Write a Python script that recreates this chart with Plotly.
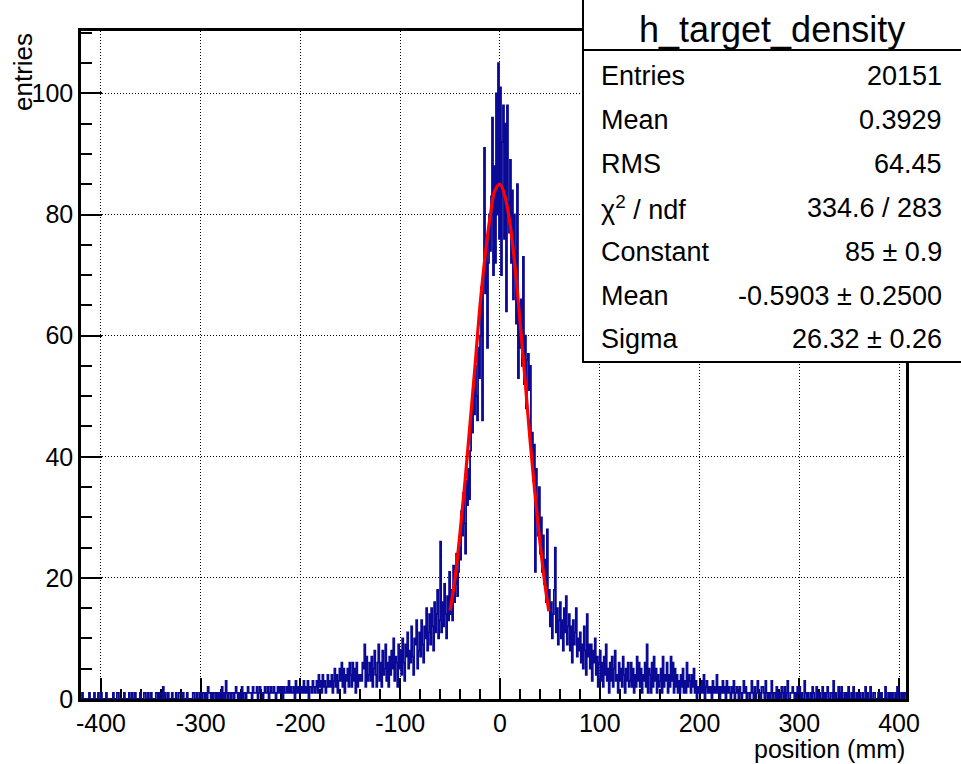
import plotly.graph_objects as go

# ---------------- data ----------------
x_low = -420.0          # low edge of first bin (mm)
bin_width = 1.0         # mm

# counts for bins -420 .. -131 (one digit per bin)
left_tail_counts = (
    "0100000010" "0001000100" "1000010000" "0010001100" "0001000010"
    "0100100001" "0001100100" "1000011010" "0020100100" "0100010011"
    "1010001000" "0011001001" "1011010211" "0101101010" "1201031011"
    "0110121010" "1201101211" "1021112012" "1101211201" "2112101212"
    "1202112131" "2112031212" "1213121302" "2132123142" "3142312423"
    "2413524135" "3625143526" "4263516243" "4365927346"
)

# counts for bins -130 .. 129
core_counts = [
    3, 7, 2, 5, 8, 4, 2, 6, 9, 3,
    6, 2, 8, 4, 5, 9, 3, 6, 2, 7,
    4, 8, 5, 10, 3, 7, 6, 2, 9, 5,
    8, 4, 10, 6, 3, 9, 7, 11, 5, 8,
    6, 12, 7, 4, 10, 9, 13, 5, 8, 11,
    7, 13, 9, 6, 12, 10, 15, 8, 11, 14,
    9, 15, 12, 8, 16, 11, 14, 18, 10, 13,
    26, 11, 16, 12, 19, 14, 10, 17, 13, 21,
    14, 18, 13, 22, 16, 19, 24, 17, 21, 25,
    23, 31, 27, 34, 29, 24, 36, 32, 38, 33,
    41, 48, 44, 52, 47, 55, 50, 46, 58, 53,
    60, 68, 46, 70, 91, 67, 75, 58, 72, 80,
    74, 83, 96, 70, 88, 72, 100, 80, 105, 76,
    101, 70, 92, 98, 76, 95, 64, 98, 82, 77,
    89, 72, 84, 66, 80, 74, 62, 85, 53, 64,
    58, 66, 55, 73, 52, 60, 48, 56, 57, 51,
    55, 40, 44, 36, 42, 21, 38, 33, 27, 35,
    24, 30, 21, 27, 19, 23, 16, 28, 15, 18,
    12, 16, 10, 14, 18, 25, 11, 15, 9, 13,
    16, 10, 13, 8, 15, 11, 17, 9, 12, 14,
    8, 12, 6, 13, 9, 11, 15, 7, 10, 8,
    11, 6, 9, 5, 12, 8, 4, 14, 7, 9,
    5, 9, 3, 8, 6, 10, 4, 7, 2, 6,
    8, 3, 6, 2, 7, 4, 9, 3, 5, 1,
    6, 3, 7, 2, 5, 8, 3, 4, 1, 6,
    3, 5, 2, 7, 4, 1, 5, 3, 6, 2,
]

# counts for bins 130 .. 406 (one digit per bin)
right_tail_counts = (
    "3625142736" "2514362915" "4162735142" "3517243614" "2736152413"
    "1425131624" "3142513021" "2131402312" "1203121412" "0213120312"
    "1021301210" "2101312011" "0131020131" "1022103101" "0130110201"
    "1021020130" "0112101021" "2010031010" "0102100201" "1002010120"
    "0110301002" "1020010102" "0010200101" "1001002010" "0200110001"
    "1010002001" "0101001020" "0010101"
)

# fitted gaussian curve
fit_x = [-50, -45, -40, -35, -30, -25, -20, -15, -10, -5, 0, 5,
         10, 15, 20, 25, 30, 35, 40, 45, 49]
fit_y = [14.6, 20, 27.5, 36, 45.5, 55, 65, 73, 79.5, 84, 85, 83,
         78.5, 71.5, 62.5, 53, 43, 34, 26, 19, 14.5]

x_tick_vals = [-400, -300, -200, -100, 0, 100, 200, 300, 400]
x_tick_text = ["-400", "-300", "-200", "-100", "0", "100", "200", "300", "400"]
y_tick_vals = [0, 20, 40, 60, 80, 100]

stats_title = "h_target_density"
stats_labels = ["Entries", "Mean", "RMS", "\u03c7<sup>2</sup> / ndf",
                "Constant", "Mean", "Sigma"]
stats_values = ["20151", "0.3929", "64.45", "334.6 / 283",
                "85 \u00b1 0.9", "-0.5903 \u00b1 0.2500", "26.32 \u00b1 0.26"]

# ---------------- build ----------------
counts = [int(c) for c in left_tail_counts] + core_counts + [int(c) for c in right_tail_counts]
edges = [x_low + i * bin_width for i in range(len(counts) + 1)]
step_y = counts + [counts[-1]]

W, H = 961, 764
L, R, T, B = 81, 55, 31, 65
pw, ph = W - L - R, H - T - B


def px(x):
    return (x - L) / pw


def py(y):
    return (H - B - y) / ph


FONT = "Liberation Sans, Arial, Helvetica, sans-serif"
BLUE = "#0a0a96"

fig = go.Figure()
fig.add_trace(go.Scatter(
    x=edges, y=step_y, mode="lines", line=dict(color=BLUE, width=1.8, shape="hv"),
    hoverinfo="skip", showlegend=False))
fig.add_trace(go.Scatter(
    x=fit_x, y=fit_y, mode="lines", line=dict(color="#ff0000", width=3.2, shape="spline"),
    hoverinfo="skip", showlegend=False))

axis_common = dict(
    showline=True, linecolor="black", linewidth=2.5, mirror=True,
    ticks="inside", tickcolor="black", tickwidth=2,
    showgrid=True, gridcolor="black", gridwidth=1, griddash="1px,2px",
    zeroline=False, layer="below traces",
    tickfont=dict(family=FONT, size=25, color="black"),
)

fig.update_xaxes(
    range=[edges[0], edges[-1]], tickvals=x_tick_vals, ticktext=x_tick_text,
    ticklen=21, minor=dict(dtick=20, ticklen=10, ticks="inside", tickcolor="black",
                           tickwidth=2, showgrid=False),
    **axis_common)
fig.update_yaxes(
    range=[0, 110.3], tickvals=y_tick_vals, ticklen=21,
    minor=dict(dtick=5, ticklen=11, ticks="inside", tickcolor="black",
               tickwidth=2, showgrid=False),
    **axis_common)

shapes = [
    dict(type="rect", xref="paper", yref="paper", x0=px(583), x1=px(963), y0=py(362), y1=py(-2),
         line=dict(color="black", width=2), fillcolor="white", layer="above"),
    dict(type="line", xref="paper", yref="paper", x0=px(583), x1=px(963), y0=py(50), y1=py(50),
         line=dict(color="black", width=2), layer="above"),
]

annotations = [
    dict(text=stats_title, xref="paper", yref="paper", x=px(772), y=py(29),
         xanchor="center", yanchor="middle", showarrow=False,
         font=dict(family=FONT, size=36, color="black")),
    dict(text="entries", xref="paper", yref="paper", x=px(23), y=py(31),
         xanchor="center", yanchor="top", textangle=-90, showarrow=False,
         font=dict(family=FONT, size=26, color="black")),
    dict(text="position (mm)", xref="paper", yref="paper", x=px(907), y=py(749),
         xanchor="right", yanchor="middle", showarrow=False,
         font=dict(family=FONT, size=25, color="black")),
]
row_centers = [76, 120, 164, 208, 252, 296, 339]
for lab, val, yc in zip(stats_labels, stats_values, row_centers):
    annotations.append(dict(text=lab, xref="paper", yref="paper", x=px(599), y=py(yc),
                            xanchor="left", yanchor="middle", showarrow=False,
                            font=dict(family=FONT, size=27, color="black")))
    annotations.append(dict(text=val, xref="paper", yref="paper", x=px(944), y=py(yc),
                            xanchor="right", yanchor="middle", showarrow=False,
                            font=dict(family=FONT, size=27, color="black")))

fig.update_layout(
    width=W, height=H, margin=dict(l=L, r=R, t=T, b=B),
    paper_bgcolor="white", plot_bgcolor="white",
    shapes=shapes, annotations=annotations,
    font=dict(family=FONT, color="black"),
)

fig.write_html("out.html")
